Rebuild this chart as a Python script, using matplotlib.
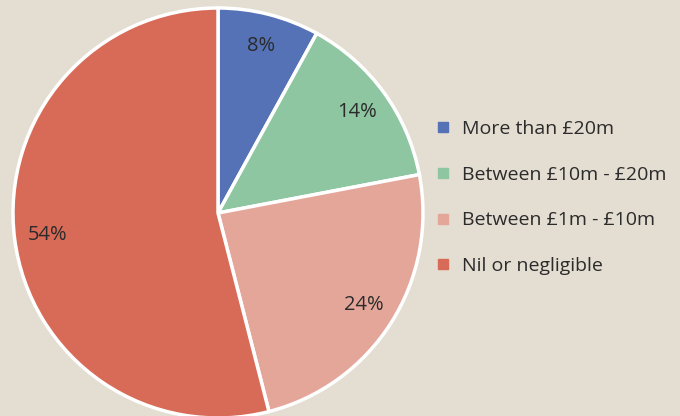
import matplotlib
matplotlib.use("Agg")
import matplotlib.pyplot as plt
from matplotlib.lines import Line2D

categories = ["More than £20m", "Between £10m - £20m", "Between £1m - £10m", "Nil or negligible"]
values = [8, 14, 24, 54]
colors = ["#5572B6", "#8EC6A2", "#E5A69A", "#D76B57"]
bg = "#E4DDD1"

plt.rcParams['font.family'] = ['Open Sans', 'DejaVu Sans']

fig = plt.figure(figsize=(6.8, 4.16), dpi=100, facecolor=bg)
ax = fig.add_axes([13/680, -2/416, 410/680, 410/416])
ax.set_facecolor(bg)
wedges, texts, autotexts = ax.pie(
    values, colors=colors, startangle=90, counterclock=False,
    autopct=lambda p: f"{p:.0f}%", pctdistance=0.84, radius=1,
    wedgeprops=dict(edgecolor="white", linewidth=2.5),
    textprops=dict(fontsize=14.5, color="#2b2b2b"))
ax.set_xlim(-1, 1)
ax.set_ylim(-1, 1)
ax.set_aspect("equal")

handles = [Line2D([0], [0], marker="s", linestyle="none", markersize=7.5,
                  markerfacecolor=c, markeredgecolor=c) for c in colors]
fig.legend(handles, categories, loc="center left", bbox_to_anchor=(0.614, 0.525),
           frameon=False, fontsize=14, labelspacing=1.42, handletextpad=0.6,
           handlelength=0.8, labelcolor="#2b2b2b")

fig.savefig("out.png", dpi=100, facecolor=bg)
